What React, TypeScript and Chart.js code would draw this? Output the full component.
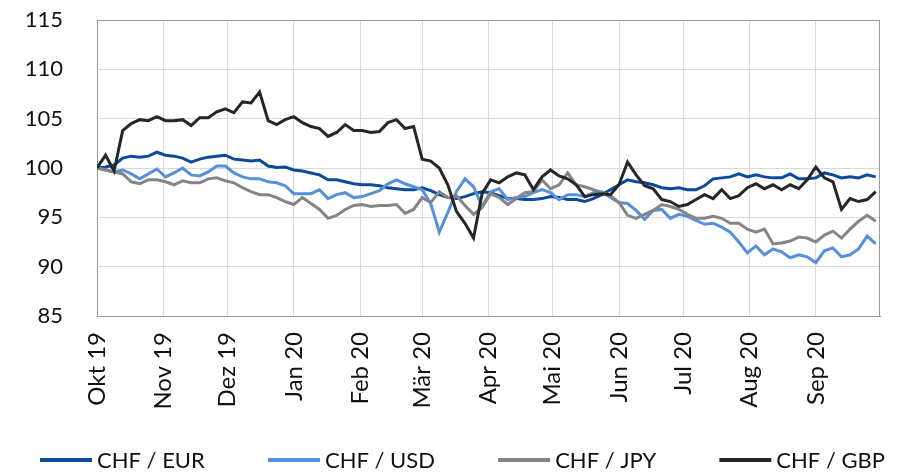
import React, { useEffect, useRef } from 'react';
import { Chart, registerables } from 'chart.js';

Chart.register(...registerables);

// Month ticks (days since 1 Oct 2019)
const monthDays = [0, 31, 61, 92, 123, 152, 183, 213, 244, 274, 305, 336];
const monthLabels = ['Okt 19', 'Nov 19', 'Dez 19', 'Jan 20', 'Feb 20', 'Mär 20', 'Apr 20', 'Mai 20', 'Jun 20', 'Jul 20', 'Aug 20', 'Sep 20'];
const yTicks = [85, 90, 95, 100, 105, 110, 115];
const seriesNames = ['CHF / EUR', 'CHF / USD', 'CHF / JPY', 'CHF / GBP'];
// one observation every 4 days
const sampleStepDays = 4;

const chfEur = [
  100.0, 100.1, 100.3, 101.0, 101.2, 101.1, 101.2, 101.6, 101.3, 101.2, 101.0, 100.6, 100.9, 101.1, 101.2, 101.3,
  100.9, 100.8, 100.7, 100.8, 100.2, 100.05, 100.1, 99.8, 99.7, 99.5, 99.3, 98.8, 98.8, 98.6, 98.4,
  98.3, 98.3, 98.2, 98.0, 97.9, 97.8, 97.8, 98.0, 97.7, 97.3, 97.0, 96.9, 97.1, 97.4, 97.6, 97.5,
  97.2, 96.9, 96.9, 96.8, 96.8, 96.9, 97.1, 97.0, 96.8, 96.8, 96.6, 96.9, 97.3, 97.8, 98.3,
  98.8, 98.6, 98.5, 98.3, 98.0, 97.9, 98.0, 97.8, 97.8, 98.2, 98.9, 99.0, 99.1, 99.4, 99.1,
  99.3, 99.1, 99.0, 99.0, 99.4, 98.9, 98.9, 99.0, 99.5, 99.3, 99.0, 99.1, 99.0, 99.3, 99.1,
];

const chfUsd = [
  100.0, 99.8, 99.6, 99.8, 99.4, 98.9, 99.4, 99.9, 99.1, 99.5, 100.0, 99.3, 99.2, 99.6, 100.2, 100.2,
  99.5, 99.1, 98.9, 98.9, 98.6, 98.5, 98.2, 97.4, 97.4, 97.4, 97.8, 96.9, 97.3, 97.5, 97.0,
  97.1, 97.4, 97.7, 98.4, 98.8, 98.4, 98.1, 97.8, 96.4, 93.5, 95.5, 97.6, 98.9, 98.1, 96.1, 97.6,
  97.9, 96.8, 97.0, 97.1, 97.5, 97.8, 97.5, 96.8, 97.3, 97.3, 97.1, 97.5, 97.6, 97.0, 96.5,
  96.4, 95.7, 94.8, 95.7, 95.8, 94.9, 95.3, 95.1, 94.7, 94.3, 94.4, 94.0, 93.5, 92.5, 91.4,
  92.1, 91.2, 91.8, 91.5, 90.9, 91.2, 91.0, 90.4, 91.6, 91.9, 91.0, 91.2, 91.8, 93.1, 92.3,
];

const chfJpy = [
  100.0, 99.8, 99.6, 99.4, 98.6, 98.4, 98.8, 98.8, 98.6, 98.3, 98.7, 98.5, 98.5, 98.9, 99.0, 98.7,
  98.5, 98.0, 97.6, 97.3, 97.3, 97.0, 96.6, 96.3, 97.0, 96.4, 95.8, 94.9, 95.2, 95.8, 96.2,
  96.3, 96.1, 96.2, 96.2, 96.3, 95.4, 95.8, 97.0, 96.5, 97.6, 97.0, 97.2, 96.2, 95.3, 96.0, 97.4,
  97.0, 96.3, 96.9, 97.5, 97.6, 98.8, 97.9, 98.3, 99.5, 98.3, 98.1, 97.8, 97.5, 97.2, 96.5,
  95.2, 94.9, 95.3, 95.7, 96.3, 96.1, 95.8, 95.3, 94.9, 94.9, 95.1, 94.9, 94.4, 94.4, 93.8,
  93.5, 93.8, 92.3, 92.4, 92.6, 93.0, 92.9, 92.5, 93.2, 93.6, 92.9, 93.8, 94.6, 95.2, 94.6,
];

const chfGbp = [
  100.0, 101.3, 99.7, 103.8, 104.5, 104.9, 104.8, 105.2, 104.8, 104.8, 104.9, 104.3, 105.1, 105.1, 105.7, 106.0,
  105.6, 106.7, 106.6, 107.7, 104.8, 104.4, 104.9, 105.2, 104.6, 104.2, 104.0, 103.2, 103.6, 104.4, 103.8,
  103.8, 103.6, 103.7, 104.6, 104.9, 104.0, 104.2, 100.9, 100.7, 100.0, 98.3, 95.6, 94.4, 92.9, 97.4, 98.8,
  98.5, 99.1, 99.5, 99.3, 97.8, 99.1, 99.8, 99.2, 98.9, 98.3, 97.1, 97.3, 97.4, 97.3, 98.3,
  100.6, 99.3, 98.2, 97.9, 96.8, 96.6, 96.1, 96.3, 96.8, 97.3, 96.9, 97.8, 96.9, 97.2, 98.0,
  98.4, 97.9, 98.3, 97.8, 98.3, 97.9, 98.8, 100.1, 99.0, 98.6, 95.8, 96.9, 96.6, 96.8, 97.6,
];

const seriesValues = [chfEur, chfUsd, chfJpy, chfGbp];
const seriesColors = ['#0B4A9A', '#5690DA', '#858585', '#262626'];
const seriesOrder = [4, 3, 2, 1];

const FONT = 'Lato, "Open Sans", sans-serif';
const TEXT_COLOR = '#111';

const boxPlugin = {
  id: 'plotBox',
  beforeDatasetsDraw(chart: any) {
    const { ctx, chartArea } = chart;
    ctx.save();
    ctx.strokeStyle = '#9a9a9a';
    ctx.lineWidth = 1;
    ctx.strokeRect(Math.round(chartArea.left) + 0.5, Math.round(chartArea.top) + 0.5,
      Math.round(chartArea.right - chartArea.left) - 1, Math.round(chartArea.bottom - chartArea.top));
    ctx.restore();
  },
};

// Legend drawn under the axis labels, spread across the width like the original
const legendPlugin = {
  id: 'spreadLegend',
  afterDraw(chart: any) {
    const ctx = chart.ctx;
    const lineLen = 52;
    const gap = 5;
    const left = 40;
    const right = chart.width - 21;
    const yMid = 460;
    ctx.save();
    ctx.font = `22px ${FONT}`;
    const widths = seriesNames.map((n) => lineLen + gap + ctx.measureText(n).width);
    const total = widths.reduce((a, b) => a + b, 0);
    const spacing = (right - left - total) / (widths.length - 1);
    let x = left;
    seriesNames.forEach((name, i) => {
      ctx.fillStyle = seriesColors[i];
      ctx.fillRect(x, yMid - 2, lineLen, 4);
      ctx.fillStyle = TEXT_COLOR;
      ctx.textAlign = 'left';
      ctx.textBaseline = 'middle';
      ctx.fillText(name, x + lineLen + gap, yMid + 1);
      x += widths[i] + spacing;
    });
    ctx.restore();
  },
};

export default function App() {
  const canvasRef = useRef<HTMLCanvasElement | null>(null);

  useEffect(() => {
    document.body.style.margin = '0';
    let chart: Chart | null = null;
    let cancelled = false;
    const build = () => {
      if (cancelled || !canvasRef.current) return;
      chart = new Chart(canvasRef.current, {
        type: 'line',
        data: {
          datasets: seriesNames.map((name, s) => ({
            label: name,
            data: seriesValues[s].map((v, i) => ({ x: i * sampleStepDays, y: v })),
            borderColor: seriesColors[s],
            backgroundColor: seriesColors[s],
            borderWidth: 3,
            pointRadius: 0,
            tension: 0,
            order: seriesOrder[s],
          })),
        },
        options: {
          animation: false,
          responsive: false,
          maintainAspectRatio: false,
          layout: { padding: { left: 0, right: 26, top: 20, bottom: 0 } },
          plugins: {
            tooltip: { enabled: false },
            legend: { display: false },
          },
          scales: {
            x: {
              type: 'linear',
              min: 0,
              max: 366,
              afterBuildTicks: (scale: any) => {
                scale.ticks = monthDays.map((d) => ({ value: d }));
              },
              afterFit: (scale: any) => {
                scale.height = 157;
              },
              ticks: {
                autoSkip: false,
                minRotation: 90,
                maxRotation: 90,
                padding: 16,
                color: TEXT_COLOR,
                font: { family: FONT, size: 24 },
                callback: (value: any) => {
                  const idx = monthDays.indexOf(Number(value));
                  return idx >= 0 ? monthLabels[idx] : '';
                },
              },
              grid: { color: '#d9d9d9', lineWidth: 1, drawTicks: false },
              border: { display: true, color: '#8c8c8c', width: 1 },
            },
            y: {
              min: 85,
              max: 115,
              afterBuildTicks: (scale: any) => {
                scale.ticks = yTicks.map((v) => ({ value: v }));
              },
              afterFit: (scale: any) => {
                scale.width = 97;
                scale.paddingTop = 12;
                scale.paddingBottom = 12;
              },
              ticks: {
                padding: 34,
                color: TEXT_COLOR,
                font: { family: FONT, size: 22 },
                callback: (value: any) => String(value),
              },
              grid: { color: '#d9d9d9', lineWidth: 1, drawTicks: false },
              border: { display: true, color: '#8c8c8c', width: 1 },
            },
          },
        },
        plugins: [boxPlugin, legendPlugin],
      } as any);
    };
    const fontsReady = (document as any).fonts
      ? Promise.all([
          (document as any).fonts.load('22px Lato'),
          (document as any).fonts.load('24px Lato'),
        ]).catch(() => null)
      : Promise.resolve(null);
    fontsReady.then(build);
    return () => {
      cancelled = true;
      if (chart) chart.destroy();
    };
  }, []);

  return (
    <div style={{ position: 'fixed', left: 0, top: 0, width: 906, height: 473, background: '#fff' }}>
      <canvas ref={canvasRef} width={906} height={473} style={{ display: 'block', width: 906, height: 473 }} />
    </div>
  );
}
